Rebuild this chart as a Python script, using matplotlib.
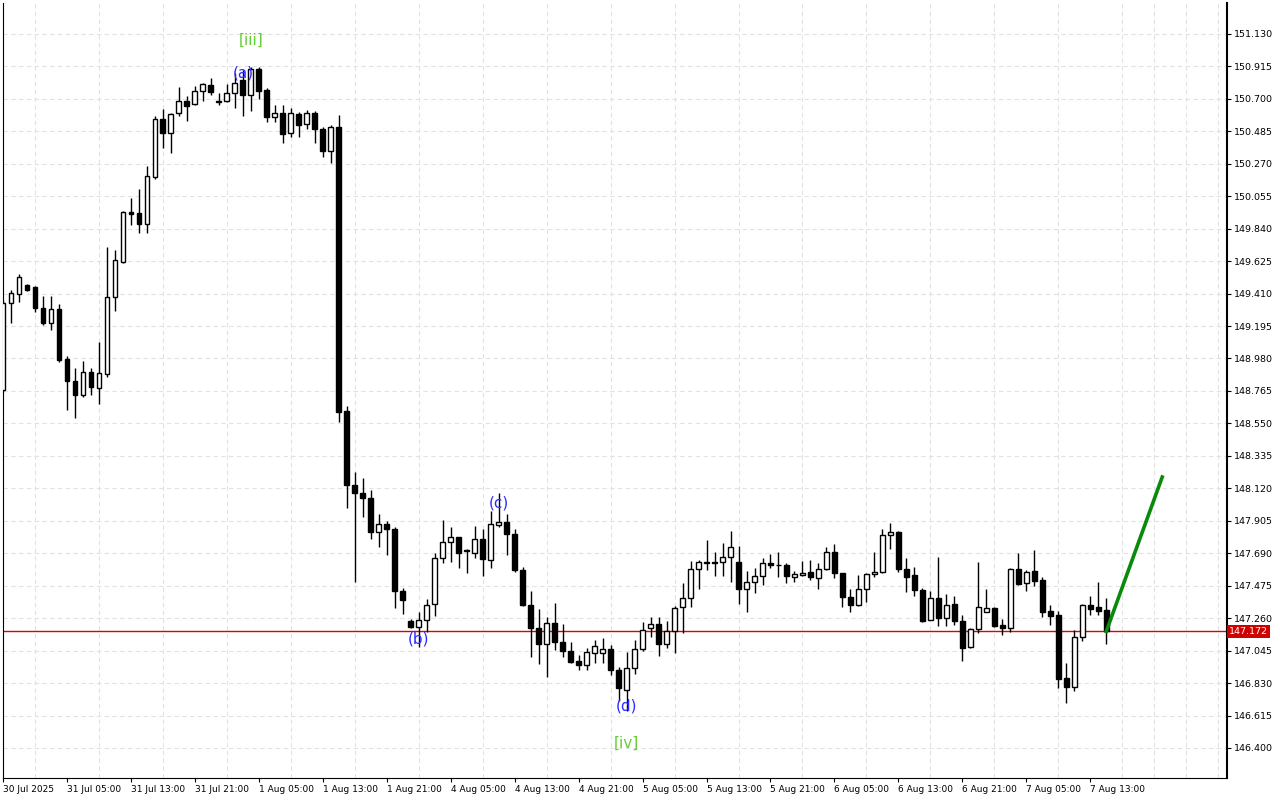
import matplotlib
matplotlib.use("Agg")
import matplotlib.pyplot as plt
import numpy as np

opens = [148.771,149.348,149.407,149.467,149.454,149.315,149.215,149.308,148.977,148.831,
 148.738,148.890,148.784,148.877,149.387,149.619,149.950,149.944,149.871,150.182,
 150.567,150.474,150.606,150.686,150.666,150.752,150.792,150.686,150.686,150.739,
 150.825,150.726,150.898,150.759,150.580,150.606,150.474,150.600,150.534,150.606,
 150.500,150.355,150.514,148.632,148.142,148.089,148.056,147.831,147.884,147.850,
 147.440,147.241,147.201,147.248,147.354,147.658,147.764,147.797,147.711,147.691,
 147.784,147.645,147.877,147.897,147.817,147.579,147.347,147.195,147.089,147.228,
 147.102,147.042,146.976,146.950,147.029,147.029,147.055,146.916,146.784,146.930,
 147.055,147.195,147.221,147.089,147.175,147.334,147.393,147.585,147.632,147.632,
 147.632,147.665,147.632,147.453,147.499,147.539,147.625,147.612,147.612,147.533,
 147.546,147.566,147.526,147.585,147.698,147.559,147.400,147.347,147.453,147.552,
 147.566,147.811,147.831,147.585,147.546,147.446,147.248,147.393,147.261,147.354,
 147.241,147.069,147.188,147.301,147.327,147.214,147.195,147.585,147.493,147.572,
 147.513,147.307,147.281,146.863,146.804,147.135,147.347,147.334,147.314]
highs = [149.368,149.434,149.540,149.474,149.460,149.394,149.394,149.341,148.996,148.917,
 148.963,148.917,149.089,149.719,149.699,149.957,150.043,150.103,150.255,150.586,
 150.633,150.606,150.779,150.719,150.785,150.805,150.838,150.739,150.799,150.871,
 150.891,150.911,150.911,150.772,150.659,150.659,150.640,150.613,150.626,150.620,
 150.514,150.527,150.593,148.665,148.228,148.188,148.109,147.950,147.903,147.864,
 147.460,147.254,147.301,147.387,147.691,147.910,147.864,147.800,147.718,147.870,
 147.850,147.970,148.089,147.950,147.850,147.599,147.440,147.320,147.267,147.360,
 147.221,147.102,147.016,147.062,147.115,147.128,147.082,146.936,147.036,147.115,
 147.234,147.267,147.267,147.241,147.340,147.493,147.638,147.645,147.777,147.698,
 147.758,147.837,147.738,147.572,147.592,147.658,147.685,147.698,147.625,147.572,
 147.638,147.645,147.625,147.731,147.751,147.562,147.453,147.546,147.556,147.698,
 147.850,147.890,147.835,147.658,147.599,147.460,147.440,147.665,147.420,147.407,
 147.281,147.195,147.632,147.453,147.334,147.254,147.592,147.691,147.579,147.711,
 147.533,147.347,147.307,146.963,147.181,147.354,147.407,147.499,147.393]
lows = [148.758,149.215,149.354,149.427,149.288,149.202,149.169,148.957,148.639,148.586,
 148.725,148.738,148.678,148.857,149.295,149.613,149.864,149.811,149.811,150.169,
 150.374,150.341,150.586,150.553,150.659,150.686,150.726,150.659,150.679,150.640,
 150.586,150.620,150.699,150.547,150.547,150.408,150.447,150.447,150.500,150.408,
 150.315,150.275,148.559,147.990,147.499,147.930,147.784,147.731,147.678,147.327,
 147.287,147.195,147.069,147.168,147.274,147.625,147.632,147.592,147.559,147.658,
 147.539,147.592,147.864,147.678,147.566,147.340,147.002,146.956,146.870,147.049,
 147.002,146.963,146.916,146.916,146.963,146.963,146.883,146.711,146.645,146.890,
 147.042,147.135,147.009,147.062,147.029,147.161,147.334,147.453,147.579,147.539,
 147.539,147.499,147.354,147.301,147.426,147.480,147.592,147.533,147.493,147.499,
 147.540,147.513,147.453,147.579,147.526,147.334,147.301,147.340,147.367,147.533,
 147.559,147.718,147.566,147.433,147.407,147.234,147.245,147.208,147.208,147.214,
 146.976,147.065,147.161,147.298,147.201,147.148,147.168,147.480,147.440,147.473,
 147.267,147.214,146.797,146.698,146.777,147.108,147.281,147.281,147.089]
closes = [149.348,149.414,149.520,149.434,149.315,149.215,149.308,148.970,148.831,148.738,
 148.890,148.791,148.884,149.387,149.632,149.950,149.937,149.871,150.189,150.567,
 150.474,150.600,150.686,150.653,150.752,150.799,150.745,150.679,150.739,150.805,
 150.726,150.898,150.752,150.580,150.606,150.467,150.606,150.527,150.606,150.500,
 150.355,150.514,148.626,148.142,148.089,148.056,147.831,147.884,147.850,147.440,
 147.380,147.201,147.248,147.347,147.658,147.764,147.797,147.691,147.705,147.784,
 147.652,147.884,147.897,147.817,147.579,147.347,147.195,147.089,147.228,147.102,
 147.042,146.969,146.950,147.036,147.075,147.055,146.916,146.797,146.930,147.055,
 147.181,147.221,147.089,147.175,147.327,147.393,147.585,147.632,147.625,147.625,
 147.665,147.731,147.453,147.499,147.539,147.625,147.612,147.609,147.539,147.552,
 147.559,147.533,147.585,147.698,147.559,147.400,147.347,147.453,147.552,147.566,
 147.811,147.831,147.585,147.533,147.446,147.241,147.393,147.261,147.347,147.241,
 147.062,147.188,147.334,147.327,147.208,147.195,147.585,147.486,147.566,147.506,
 147.301,147.274,146.857,146.804,147.135,147.347,147.320,147.307,147.172]

time_labels = ["30 Jul 2025","31 Jul 05:00","31 Jul 13:00","31 Jul 21:00","1 Aug 05:00",
 "1 Aug 13:00","1 Aug 21:00","4 Aug 05:00","4 Aug 13:00","4 Aug 21:00","5 Aug 05:00",
 "5 Aug 13:00","5 Aug 21:00","6 Aug 05:00","6 Aug 13:00","6 Aug 21:00","7 Aug 05:00",
 "7 Aug 13:00"]
price_ticks = [146.400,146.615,146.830,147.045,147.260,147.475,147.690,147.905,148.120,
 148.335,148.550,148.765,148.980,149.195,149.410,149.625,149.840,150.055,150.270,
 150.485,150.700,150.915,151.130]
last_price = 147.172
forecast_x = [138, 145]
forecast_y = [147.172, 148.195]
wave_labels = [("[iii]", 31, 151.09, "#66cc33"), ("(a)", 30, 150.87, "#2b2bff"),
               ("(b)", 52, 147.12, "#2b2bff"), ("(c)", 62, 148.02, "#2b2bff"),
               ("(d)", 78, 146.68, "#2b2bff"), ("[iv]", 78, 146.43, "#66cc33")]

fig = plt.figure(figsize=(12.8, 8.0), dpi=100)
ax = fig.add_axes([3/1280, 22/800, 1224/1280, 775/800])
n = len(opens)
x = np.arange(n)
w = 0.6
for i in range(n):
    o, h, l, c = opens[i], highs[i], lows[i], closes[i]
    ax.vlines(x[i], l, h, color="black", lw=1, zorder=3)
    bot, top = min(o, c), max(o, c)
    ht = max(top - bot, 0.004)
    fc = "white" if c >= o else "black"
    ax.add_patch(plt.Rectangle((x[i] - w/2, bot), w, ht, facecolor=fc,
                               edgecolor="black", lw=1, zorder=4))

ax.axhline(last_price, color="#e00000", lw=1, zorder=2)
ax.plot(forecast_x, forecast_y, color="#0a8a0a", lw=2.6, zorder=5)
for t, xi, yi, col in wave_labels:
    ax.text(xi, yi, t, color=col, fontsize=11, ha="center", va="center", zorder=6)

ax.set_xlim(0.1, 153.1)
ax.set_ylim(146.201, 151.335)
ax.yaxis.tick_right()
ax.set_yticks(price_ticks)
ax.set_yticklabels([f"{p:.3f}" for p in price_ticks], fontsize=6.8)
xt = np.arange(0, n, 8)
ax.set_xticks(xt)
ax.set_xticklabels(time_labels, fontsize=6.5, ha="left")
ax.set_xticks(np.arange(4, 153, 4), minor=True)
ax.tick_params(axis="x", which="minor", length=0)
ax.tick_params(axis="both", length=3, pad=2)
ax.grid(False)
ax.grid(True, axis="y", color="#e2e2e2", ls=(0, (4, 3)), lw=0.8)
ax.grid(True, axis="x", which="minor", color="#e2e2e2", ls=(0, (4, 3)), lw=0.8)
ax.set_axisbelow(True)
ax.spines["top"].set_visible(False)
ax.spines["right"].set_linewidth(1.5)
ax.text(1.0015, (last_price - 146.201) / (151.335 - 146.201), f"{last_price:.3f}",
        transform=ax.transAxes, fontsize=6.8, color="white", va="center", ha="left",
        bbox=dict(facecolor="#d00000", edgecolor="none", pad=1.5), zorder=10)
fig.savefig("out.png", dpi=100)
